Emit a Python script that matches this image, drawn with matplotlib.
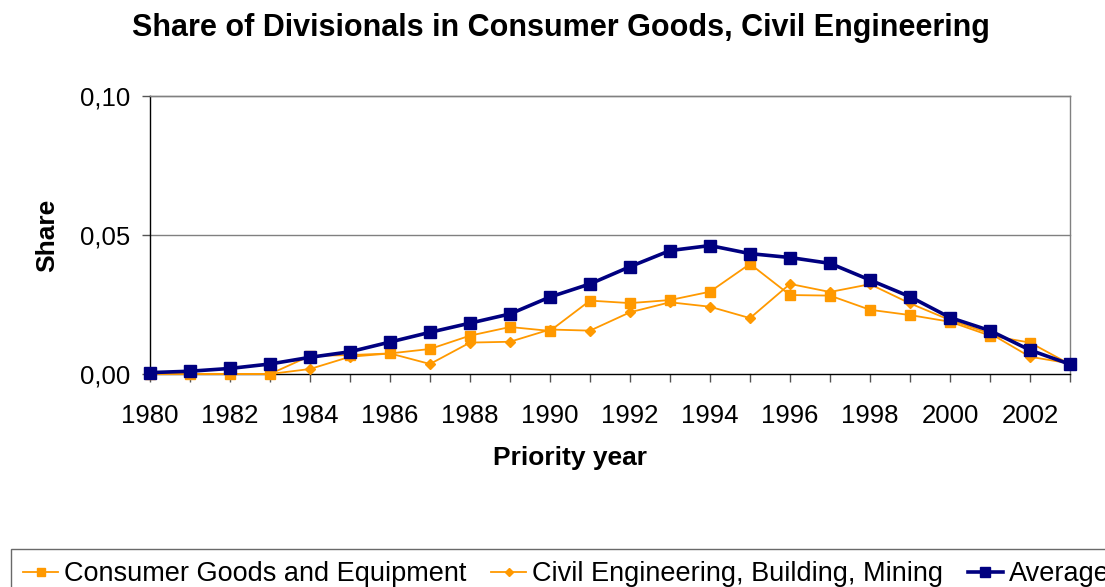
import matplotlib
matplotlib.use('Agg')
import matplotlib.pyplot as plt
import numpy as np

plt.rcParams['font.family'] = ['Liberation Sans', 'DejaVu Sans']

years = list(range(1980, 2004))
consumer = [0.0, 0.0, 0.0, 0.0, 0.0065, 0.0068, 0.0074, 0.0090, 0.0138, 0.0169,
            0.0155, 0.0264, 0.0255, 0.0266, 0.0296, 0.0396, 0.0284, 0.0282,
            0.0231, 0.0212, 0.0188, 0.0138, 0.0113, 0.0035]
civil = [0.0, 0.0, 0.0, 0.0, 0.0018, 0.0062, 0.0074, 0.0036, 0.0113, 0.0116,
         0.0160, 0.0156, 0.0222, 0.0258, 0.0242, 0.0201, 0.0324, 0.0295,
         0.0323, 0.0254, 0.0194, 0.0146, 0.0062, 0.0038]
average = [0.0005, 0.0010, 0.0020, 0.0036, 0.0060, 0.0080, 0.0115, 0.0150,
           0.0183, 0.0216, 0.0277, 0.0324, 0.0386, 0.0444, 0.0462, 0.0433,
           0.0419, 0.0398, 0.0338, 0.0278, 0.0203, 0.0156, 0.0086, 0.0035]

ORANGE = '#FF9900'
NAVY = '#000080'

W, H = 1105, 587
fig = plt.figure(figsize=(W / 100, H / 100), dpi=100)
ax = fig.add_axes([150 / W, 1 - 374 / H, 920 / W, 278 / H])

ax.plot(years, consumer, color=ORANGE, lw=1.3, marker='s', ms=6.5,
        label='Consumer Goods and Equipment', zorder=3)
ax.plot(years, civil, color=ORANGE, lw=1.3, marker='D', ms=5,
        label='Civil Engineering, Building, Mining', zorder=3)
ax.plot(years, average, color=NAVY, lw=2.6, marker='s', ms=9,
        label='Average', zorder=4)

ax.set_xlim(1980, 2003)
ax.set_ylim(0, 0.10)
ax.set_xticks(years)
ax.set_xticklabels([str(y) if y % 2 == 0 else '' for y in years])
ax.set_yticks([0, 0.05, 0.10])
ax.set_yticklabels(['0,00', '0,05', '0,10'])
ax.tick_params(axis='both', direction='out', length=6, width=1,
               labelsize=18.5, color='#555555')
ax.tick_params(axis='x', pad=15.5)
ax.tick_params(axis='y', pad=8)

for y in [0.05, 0.10]:
    ax.axhline(y, color='#808080', lw=1, zorder=1)

ax.spines['left'].set_color('black')
ax.spines['bottom'].set_color('black')
ax.spines['right'].set_color('#808080')
ax.spines['top'].set_color('#808080')
for s in ax.spines.values():
    s.set_linewidth(1)
for p in ax.lines:
    p.set_clip_on(False)

ax.set_xlabel('Priority year', fontsize=19, fontweight='bold', va='center')
ax.xaxis.set_label_coords((570 - 150) / 920, -(458 - 374) / 278)
ax.set_ylabel('Share', fontsize=19, fontweight='bold', va='center')
ax.yaxis.set_label_coords((47 - 150) / 920, 0.5)
fig.text(561 / W, 1 - 28 / H, 'Share of Divisionals in Consumer Goods, Civil Engineering',
         ha='center', va='center', fontsize=22, fontweight='bold')

leg = fig.legend(loc='upper left', bbox_to_anchor=(11 / W, 1 - 549 / H),
                 ncol=3, fontsize=19.5, frameon=True, fancybox=False,
                 edgecolor='#444444', handlelength=1.3, handletextpad=0.22,
                 columnspacing=0.9, borderpad=0.45, borderaxespad=0,
                 markerscale=0.8)
leg.get_frame().set_linewidth(1)

fig.savefig('out.png', dpi=100, facecolor='white')
